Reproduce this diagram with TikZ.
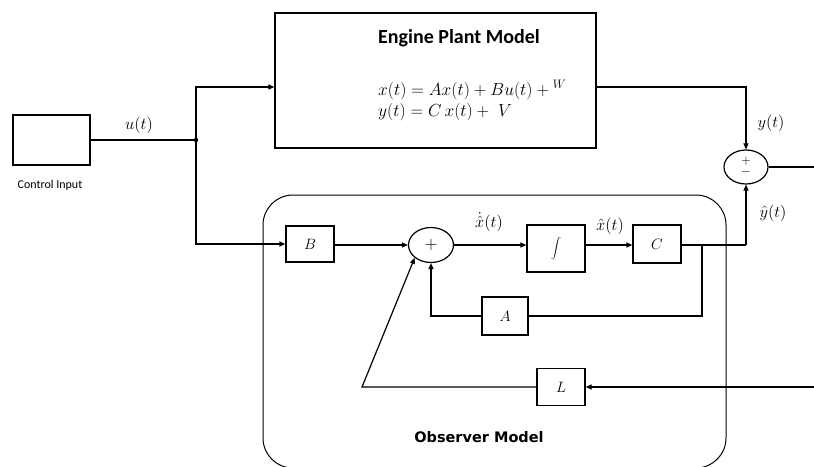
\documentclass[tikz,border=0pt]{standalone}
\usepackage{fix-cm}
\usepackage{fontspec}
\setsansfont{Carlito}
\setmainfont{Liberation Serif}
\newfontfamily\obsfont{DejaVu Sans}
\usetikzlibrary{positioning, arrows.meta, calc, shapes.geometric}

\tikzset{
    blk/.style={draw, line width=1.2pt, minimum width=48pt, minimum height=36pt, inner sep=0pt, font=\fontsize{15}{17}\selectfont},
    sumnode/.style={draw, line width=1.2pt, ellipse, minimum width=45pt, minimum height=35pt, inner sep=0pt},
    sig/.style={line width=1.2pt},
    lbl/.style={font=\fontsize{16.5}{18}\selectfont, inner sep=1pt},
}

\begin{document}
\begin{tikzpicture}[x=1pt, y=-1pt, >={Triangle[length=6pt, width=5pt]}]
    \clip (0,0) rectangle (814,466);
    % control input
    \node[blk, minimum width=77pt, minimum height=50pt] (ctrl) at (51.5,140) {};
    \node[font=\sffamily\fontsize{12}{14}\selectfont] (ctrllbl) at (50,185) {Control Input};
    \coordinate (split) at (196,140);
    \draw[sig] (ctrl.east) -- (split);
    \fill (split) circle (2.2pt);
    \node[lbl] (ulbl) at (139,125) {$u(t)$};
    % engine plant model
    \node[blk, minimum width=321pt, minimum height=135pt] (plant) at (435.5,80.5) {};
    \node[font=\sffamily\bfseries\fontsize{20}{22}\selectfont] (ptitle) at (459,38) {Engine Plant Model};
    \node[anchor=west, font=\fontsize{17.5}{19}\selectfont, inner sep=0pt] (eq1) at (378,90) {$x(t) = Ax(t) + Bu(t) +{}^{W}$};
    \node[anchor=west, font=\fontsize{17.5}{19}\selectfont, inner sep=0pt] (eq2) at (378,112) {$y(t) = C\,x(t) + \;V$};
    \draw[sig, ->] (split) |- ($(plant.west)+(0,6.5)$);
    % difference
    \node[sumnode, minimum width=44pt, minimum height=34pt] (diff) at (746,167) {};
    \node[font=\fontsize{13}{13}\selectfont] (pm) at (diff) {\shortstack{$+$\\[-1pt]$-$}};
    \draw[sig, ->] ($(plant.east)+(0,6.5)$) -| (diff.north);
    \node[lbl] (ylbl) at (771,123) {$y(t)$};
    \coordinate (yout) at (814,167);
    \draw[sig] (diff.east) -- (yout);
    % observer model
    \draw[line width=1pt, rounded corners=30pt] (263,195) rectangle (726,468);
    \node[font=\obsfont\bfseries\fontsize{14.5}{16}\selectfont] (olbl) at (479,437) {Observer Model};
    \node[blk] (bgain) at (310,244) {$B$};
    \draw[sig, ->] (split) |- (bgain.west);
    \node[sumnode] (sum) at (431,245) {\fontsize{18}{18}\selectfont$+$};
    \draw[sig, ->] (bgain.east |- sum) -- (sum.west);
    \node[blk, minimum width=58pt, minimum height=47pt] (integ) at (556,248.5) {$\displaystyle\int$};
    \draw[sig, ->] (sum.east) -- (sum.east -| integ.west);
    \node[lbl] (xdlbl) at (489,222) {$\dot{\hat{x}}(t)$};
    \node[blk, minimum width=48pt, minimum height=38pt] (cgain) at (657,244) {$C$};
    \draw[sig, ->] (integ.east |- sum) -- (integ.east |- sum -| cgain.west);
    \node[lbl] (xhlbl) at (610,226) {$\hat{x}(t)$};
    \coordinate (cbr) at (702,245);
    \coordinate (ccorner) at (746,245);
    \draw[sig] (cgain.east |- cbr) -- (ccorner);
    \draw[sig, ->] (ccorner) -- (diff.south);
    \node[lbl] (yhlbl) at (773,213) {$\hat{y}(t)$};
    \node[blk, minimum width=46pt, minimum height=38pt] (again) at (505,316) {$A$};
    \draw[sig] (cbr) |- (again.east);
    \draw[sig, ->] (again.west) -| (sum.south);
    \node[blk, minimum width=48pt, minimum height=37pt] (lgain) at (561,387) {$L$};
    \coordinate (lin) at (814,387);
    \draw[sig, ->] (lin) -- (lgain.east);
    \coordinate (lcorner) at (362,387);
    \draw[sig, ->] (lgain.west) -- (lcorner) -- (sum.south west);
\end{tikzpicture}
\end{document}
